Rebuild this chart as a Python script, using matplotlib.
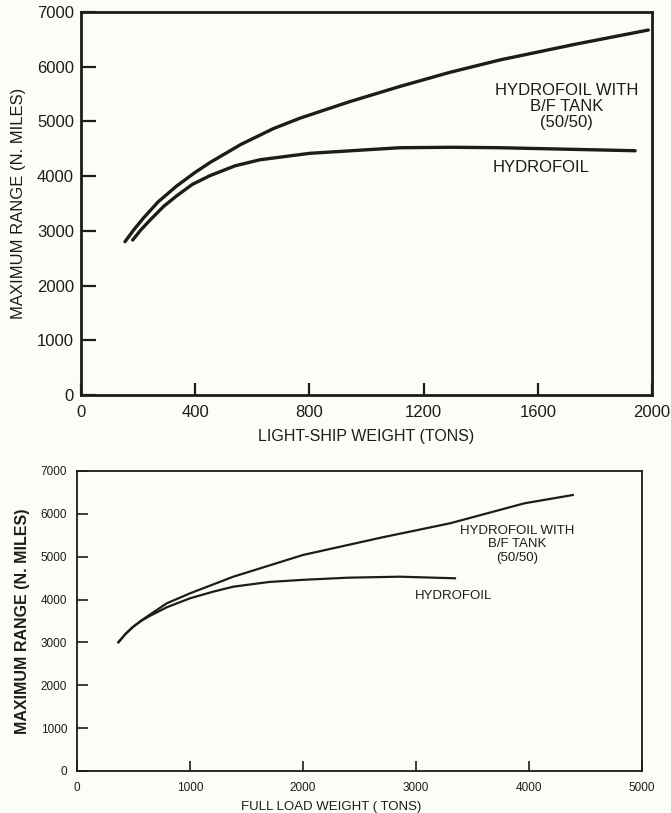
import matplotlib.pyplot as plt

# ----------------------------------------------------
# Data
# ----------------------------------------------------

light_ship_bf = [154, 185, 218, 270, 335, 400, 452, 560, 674, 767, 940, 1117, 1290, 1468, 1730, 1987]
range_light_bf = [2802, 3020, 3230, 3530, 3820, 4070, 4250, 4580, 4870, 5060, 5360, 5640, 5895, 6125, 6410, 6671]

light_ship_hf = [181, 210, 242, 290, 335, 390, 452, 540, 627, 802, 1117, 1300, 1468, 1941]
range_light_hf = [2833, 3020, 3198, 3450, 3640, 3850, 4010, 4190, 4300, 4418, 4520, 4528, 4520, 4465]

full_load_bf = [366, 430, 498, 570, 646, 794, 1000, 1383, 2000, 2700, 3301, 3959, 4387]
range_full_bf = [3003, 3200, 3367, 3515, 3650, 3912, 4145, 4533, 5040, 5450, 5779, 6245, 6439]

full_load_hf = [366, 430, 498, 570, 646, 794, 1000, 1200, 1383, 1700, 2000, 2400, 2858, 3345]
range_full_hf = [3003, 3200, 3367, 3505, 3620, 3819, 4029, 4180, 4300, 4410, 4460, 4510, 4533, 4496]

y_ticks = [0, 1000, 2000, 3000, 4000, 5000, 6000, 7000]
light_ticks = [0, 400, 800, 1200, 1600, 2000]
full_ticks = [0, 1000, 2000, 3000, 4000, 5000]

label_bf = "HYDROFOIL WITH\nB/F TANK\n(50/50)"
label_hf = "HYDROFOIL"

# ----------------------------------------------------
# Figure
# ----------------------------------------------------

plt.rcParams["font.family"] = ["Liberation Sans", "DejaVu Sans"]

ink = "#1c1c1c"
paper = "#fdfdf8"

fig = plt.figure(figsize=(6.71, 8.13), dpi=100, facecolor=paper)

# ----------------------------------------------------
# Top chart: light-ship weight
# ----------------------------------------------------

ax1 = fig.add_axes([0.1207, 0.5141, 0.851, 0.4711], facecolor=paper)

ax1.plot(light_ship_bf, range_light_bf, color=ink, linewidth=2.4,
         solid_joinstyle="round", solid_capstyle="round")
ax1.plot(light_ship_hf, range_light_hf, color=ink, linewidth=2.4,
         solid_joinstyle="round", solid_capstyle="round")

ax1.text(1702, 5269, label_bf, ha="center", va="center",
         fontsize=12, color=ink, linespacing=1.1)
ax1.text(1611, 4167, label_hf, ha="center", va="center",
         fontsize=12, color=ink)

ax1.set_xlim(0, 2000)
ax1.set_ylim(0, 7000)
ax1.set_xticks(light_ticks)
ax1.set_yticks(y_ticks)

ax1.tick_params(axis="x", direction="in", length=9, width=1.6,
                pad=7, labelsize=12, colors=ink)
ax1.tick_params(axis="y", direction="in", length=11, width=1.6,
                pad=5, labelsize=12, colors=ink)

for side in ax1.spines.values():
    side.set_linewidth(2.0)
    side.set_color(ink)

ax1.set_xlabel("LIGHT-SHIP WEIGHT (TONS)", fontsize=11.5, color=ink, labelpad=7)
ax1.set_ylabel("MAXIMUM RANGE (N. MILES)", fontsize=12, color=ink, labelpad=8)

# ----------------------------------------------------
# Bottom chart: full load weight
# ----------------------------------------------------

ax2 = fig.add_axes([0.1148, 0.0517, 0.842, 0.369], facecolor=paper)

ax2.plot(full_load_bf, range_full_bf, color=ink, linewidth=1.6,
         solid_joinstyle="round")
ax2.plot(full_load_hf, range_full_hf, color=ink, linewidth=1.6,
         solid_joinstyle="round")

ax2.text(3894, 5289, label_bf, ha="center", va="center",
         fontsize=9.5, color=ink, linespacing=1.15)
ax2.text(3335, 4083, label_hf, ha="center", va="center",
         fontsize=9.5, color=ink)

ax2.set_xlim(0, 5000)
ax2.set_ylim(0, 7000)
ax2.set_xticks(full_ticks)
ax2.set_yticks(y_ticks)

ax2.tick_params(axis="x", direction="in", length=7, width=1.2,
                pad=8, labelsize=8.5, colors=ink)
ax2.tick_params(axis="y", direction="in", length=8, width=1.2,
                pad=7, labelsize=8.5, colors=ink)

for side in ax2.spines.values():
    side.set_linewidth(1.3)
    side.set_color(ink)

ax2.set_xlabel("FULL LOAD WEIGHT ( TONS)", fontsize=9.5, color=ink)
ax2.xaxis.set_label_coords(0.45, -0.1)
ax2.set_ylabel("MAXIMUM RANGE (N. MILES)", fontsize=11.5, fontweight="bold",
               color=ink, labelpad=8)

fig.savefig("out.png", dpi=100, facecolor=paper)
